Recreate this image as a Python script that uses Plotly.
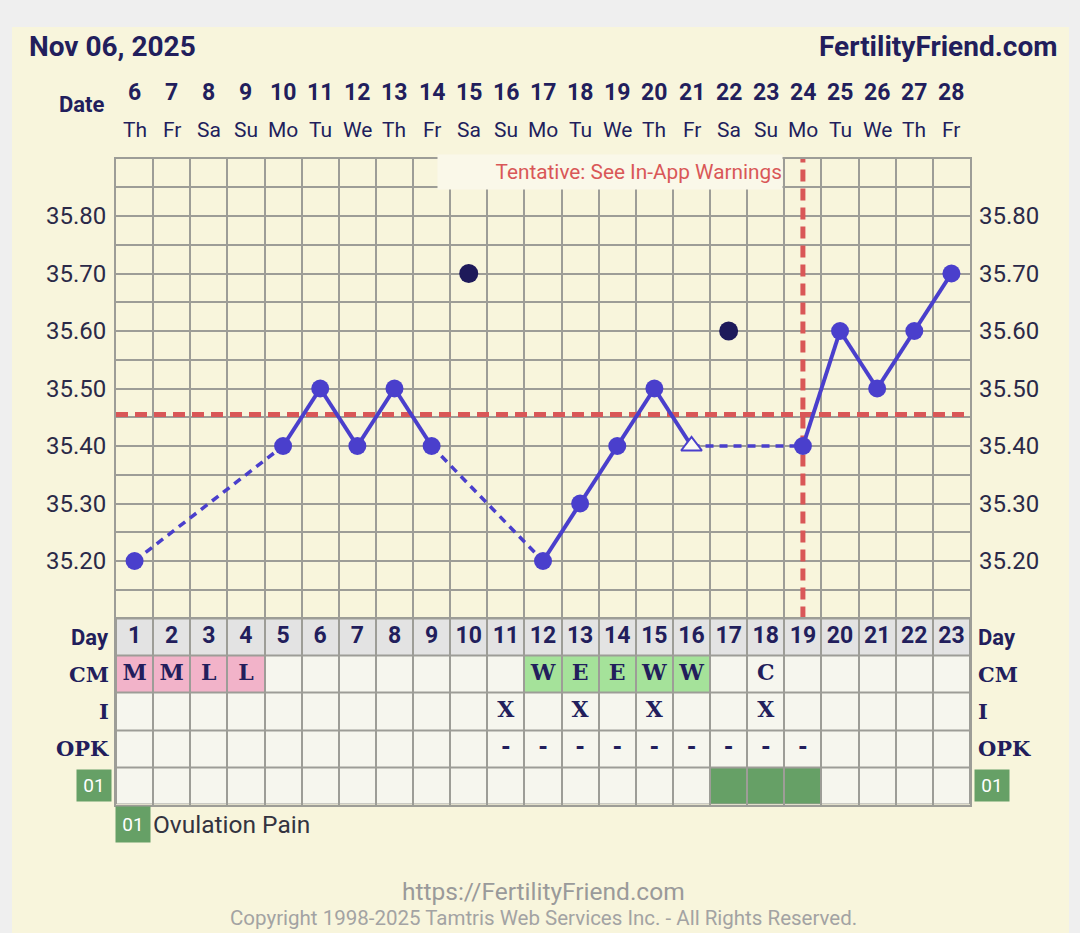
import plotly.graph_objects as go

W, H = 1080, 933

# ---------------- data ----------------
DAYS = list(range(1, 24))
DATES = [6, 7, 8, 9, 10, 11, 12, 13, 14, 15, 16, 17, 18, 19, 20, 21, 22, 23, 24, 25, 26, 27, 28]
WEEKDAYS = ["Th", "Fr", "Sa", "Su", "Mo", "Tu", "We", "Th", "Fr", "Sa", "Su", "Mo",
            "Tu", "We", "Th", "Fr", "Sa", "Su", "Mo", "Tu", "We", "Th", "Fr"]
TEMPS = [35.20, None, None, None, 35.40, 35.50, 35.40, 35.50, 35.40, None, None, 35.20,
         35.30, 35.40, 35.50, 35.40, None, None, 35.40, 35.60, 35.50, 35.60, 35.70]
DISCARDED_DAYS = [10, 17]
DISCARDED_TEMPS = [35.70, 35.60]
OPEN_MARKER_DAYS = [16]
COVERLINE = 35.455
OVULATION_DAY = 19
CM = ["M", "M", "L", "L", "", "", "", "", "", "", "", "W", "E", "E", "W", "W", "", "C", "", "", "", "", ""]
INTERCOURSE_DAYS = [11, 13, 15, 18]
OPK_DAYS = [11, 12, 13, 14, 15, 16, 17, 18, 19]
OPK_RESULT = "-"
OV_PAIN_DAYS = [17, 18, 19]
ROW_LABELS = ["Day", "CM", "I", "OPK", "01"]
TEMP_GRID = [35.10, 35.15, 35.20, 35.25, 35.30, 35.35, 35.40, 35.45, 35.50, 35.55,
             35.60, 35.65, 35.70, 35.75, 35.80, 35.85, 35.90]
TEMP_LABELS = ["", "", "35.20", "", "35.30", "", "35.40", "", "35.50", "", "35.60", "",
               "35.70", "", "35.80", "", ""]

# ---------------- styles ----------------
NAVY = "#221e5c"
BLUE = "#4a3fcc"
RED = "#d95757"
GRID = "#9d9d97"
CREAM = "#f8f5dc"
CELL = "#f6f6ee"
DAYROW = "#e3e3e3"
PINK = "#f2b3c9"
LGREEN = "#a5e29a"
DGREEN = "#66a066"
SANS = "Roboto"
SERIF = "DejaVu Serif"


def px(xp):
    return xp / W


def py(yp):
    return 1 - yp / H


fig = go.Figure()

# reference lines (drawn first, under the curve)
fig.add_trace(go.Scatter(x=[DAYS[0] - 0.5, DAYS[-1] + 0.5], y=[COVERLINE, COVERLINE],
                         mode="lines", line=dict(color=RED, width=5, dash="12px,7px"),
                         hoverinfo="skip", showlegend=False))
fig.add_trace(go.Scatter(x=[OVULATION_DAY, OVULATION_DAY], y=[TEMP_GRID[0], TEMP_GRID[-1]],
                         mode="lines", line=dict(color=RED, width=5, dash="12px,7px"),
                         hoverinfo="skip", showlegend=False))

# temperature curve: solid between consecutive days, dashed over gaps
pts = [(d, t) for d, t in zip(DAYS, TEMPS) if t is not None]
sx, sy, dx, dy = [], [], [], []
for (d0, t0), (d1, t1) in zip(pts[:-1], pts[1:]):
    if d1 - d0 == 1:
        sx += [d0, d1, None]
        sy += [t0, t1, None]
    else:
        dx += [d0, d1, None]
        dy += [t0, t1, None]
fig.add_trace(go.Scatter(x=dx, y=dy, mode="lines", line=dict(color=BLUE, width=3.5, dash="8px,6px"),
                         hoverinfo="skip", showlegend=False))
fig.add_trace(go.Scatter(x=sx, y=sy, mode="lines", line=dict(color=BLUE, width=4),
                         hoverinfo="skip", showlegend=False))
cx = [d for d, t in pts if d not in OPEN_MARKER_DAYS]
cy = [t for d, t in pts if d not in OPEN_MARKER_DAYS]
fig.add_trace(go.Scatter(x=cx, y=cy, mode="markers",
                         marker=dict(color=BLUE, size=18, line=dict(width=0)),
                         showlegend=False))
ox = [d for d, t in pts if d in OPEN_MARKER_DAYS]
oy = [t for d, t in pts if d in OPEN_MARKER_DAYS]
fig.add_trace(go.Scatter(x=ox, y=oy, mode="markers",
                         marker=dict(symbol="triangle-up", color="#fbfaf2", size=18,
                                     line=dict(color=BLUE, width=2)),
                         showlegend=False))
fig.add_trace(go.Scatter(x=DISCARDED_DAYS, y=DISCARDED_TEMPS, mode="markers",
                         marker=dict(color="#1e1a5a", size=19, line=dict(width=0)),
                         showlegend=False))

# ---------------- table ----------------
ROWS = list(range(len(ROW_LABELS)))
z = []
z.append([1 for _ in DAYS])
z.append([2 if c in ("M", "L") else 3 if c in ("W", "E") else 0 for c in CM])
z.append([0 for _ in DAYS])
z.append([0 for _ in DAYS])
z.append([4 if d in OV_PAIN_DAYS else 0 for d in DAYS])
fig.add_trace(go.Heatmap(x=DAYS, y=ROWS, z=z, xaxis="x", yaxis="y2", zmin=0, zmax=4,
                         colorscale=[[0, CELL], [0.25, DAYROW], [0.5, PINK], [0.75, LGREEN], [1, DGREEN]],
                         showscale=False, xgap=2, ygap=2, hoverinfo="skip"))
fig.add_shape(type="rect", xref="x", yref="y2", x0=DAYS[0] - 0.5, x1=DAYS[-1] + 0.5,
              y0=ROWS[0] - 0.5, y1=ROWS[-1] + 0.5, fillcolor=GRID, line=dict(width=0), layer="below")

fig.add_trace(go.Scatter(x=DAYS, y=[ROWS[0]] * len(DAYS), text=[str(d) for d in DAYS], mode="text",
                         textfont=dict(family=SANS, size=23, color=NAVY, weight="bold"),
                         xaxis="x", yaxis="y2", hoverinfo="skip", showlegend=False, cliponaxis=False))
fig.add_trace(go.Scatter(x=DAYS, y=[ROWS[1]] * len(DAYS), text=CM, mode="text",
                         textfont=dict(family=SERIF, size=22, color=NAVY, weight="bold"),
                         xaxis="x", yaxis="y2", hoverinfo="skip", showlegend=False, cliponaxis=False))
fig.add_trace(go.Scatter(x=INTERCOURSE_DAYS, y=[ROWS[2]] * len(INTERCOURSE_DAYS),
                         text=["X"] * len(INTERCOURSE_DAYS), mode="text",
                         textfont=dict(family=SERIF, size=22, color=NAVY, weight="bold"),
                         xaxis="x", yaxis="y2", hoverinfo="skip", showlegend=False, cliponaxis=False))
fig.add_trace(go.Scatter(x=OPK_DAYS, y=[ROWS[3]] * len(OPK_DAYS),
                         text=[OPK_RESULT] * len(OPK_DAYS), mode="text",
                         textfont=dict(family=SERIF, size=22, color=NAVY, weight="bold"),
                         xaxis="x", yaxis="y2", hoverinfo="skip", showlegend=False, cliponaxis=False))

# ---------------- layout ----------------
ann = []
ann.append(dict(text="Nov 06, 2025", x=px(27), y=py(46), xref="paper", yref="paper",
                xanchor="left", yanchor="middle", showarrow=False,
                font=dict(family=SANS, size=28, color=NAVY, weight="bold")))
ann.append(dict(text="FertilityFriend.com", x=px(1059), y=py(46), xref="paper", yref="paper",
                xanchor="right", yanchor="middle", showarrow=False,
                font=dict(family=SANS, size=28, color=NAVY, weight="bold")))
ann.append(dict(text="Date", x=px(107), y=py(104), xref="paper", yref="paper",
                xanchor="right", yanchor="middle", showarrow=False,
                font=dict(family=SANS, size=22, color=NAVY, weight="bold")))
for d, dt, wd in zip(DAYS, DATES, WEEKDAYS):
    ann.append(dict(text=str(dt), x=d, y=py(92), xref="x", yref="paper", showarrow=False,
                    yanchor="middle", font=dict(family=SANS, size=23, color=NAVY, weight="bold")))
    ann.append(dict(text=wd, x=d, y=py(130), xref="x", yref="paper", showarrow=False,
                    yanchor="middle", font=dict(family=SANS, size=21, color=NAVY)))
ann.append(dict(text="Tentative: See In-App Warnings", x=px(783), y=py(172), xref="paper", yref="paper",
                xanchor="right", yanchor="middle", showarrow=False, width=344, height=34,
                align="right", bgcolor="#faf8e9", borderpad=0,
                font=dict(family=SANS, size=20.8, color=RED)))
for r, lab in zip(ROWS, ROW_LABELS):
    if lab == "01":
        for xx, anc in ((112, "right"), (974, "left")):
            ann.append(dict(text=lab, x=px(xx), y=r, xref="paper", yref="y2", xanchor=anc,
                            yanchor="middle", showarrow=False, width=34, height=31, borderpad=0,
                            bgcolor=DGREEN, font=dict(family=SANS, size=19, color="white")))
    else:
        fam = SANS if lab == "Day" else SERIF
        ann.append(dict(text=lab, x=px(111), y=r, xref="paper", yref="y2", xanchor="right",
                        yanchor="middle", showarrow=False,
                        font=dict(family=fam, size=22 if lab == "Day" else 21, color=NAVY, weight="bold")))
        ann.append(dict(text=lab, x=px(976), y=r, xref="paper", yref="y2", xanchor="left",
                        yanchor="middle", showarrow=False,
                        font=dict(family=fam, size=22 if lab == "Day" else 21, color=NAVY, weight="bold")))
ann.append(dict(text="01", x=px(115), y=py(824), xref="paper", yref="paper", xanchor="left",
                yanchor="middle", showarrow=False, width=34, height=35, borderpad=0,
                bgcolor=DGREEN, font=dict(family=SANS, size=19, color="white")))
ann.append(dict(text="Ovulation Pain", x=px(151), y=py(824), xref="paper", yref="paper", xanchor="left",
                yanchor="middle", showarrow=False, font=dict(family=SANS, size=24.5, color="#333340")))
ann.append(dict(text="https://FertilityFriend.com", x=px(543), y=py(891), xref="paper", yref="paper",
                xanchor="center", yanchor="middle", showarrow=False,
                font=dict(family=SANS, size=24.5, color="#9a9a9a")))
ann.append(dict(text="Copyright 1998-2025 Tamtris Web Services Inc. - All Rights Reserved.",
                x=px(543), y=py(918), xref="paper", yref="paper",
                xanchor="center", yanchor="middle", showarrow=False,
                font=dict(family=SANS, size=20.5, color="#a3a3a3")))

fig.add_shape(type="rect", xref="paper", yref="paper", x0=px(12), x1=px(1069), y0=0, y1=py(27),
              fillcolor=CREAM, line=dict(width=0), layer="below")

tickfont = dict(family=SANS, size=24, color="#2b2948")
fig.update_layout(
    width=W, height=H, autosize=False,
    margin=dict(l=0, r=0, t=0, b=0),
    paper_bgcolor="#efefef", plot_bgcolor=CREAM,
    showlegend=False,
    annotations=ann,
    xaxis=dict(domain=[px(116), px(970)], range=[DAYS[0] - 0.5, DAYS[-1] + 0.5],
               tickvals=[d - 0.5 for d in DAYS] + [DAYS[-1] + 0.5], showticklabels=False,
               ticks="", showgrid=True, gridcolor=GRID, gridwidth=2, zeroline=False,
               showline=True, mirror="all", linecolor=GRID, linewidth=2, anchor="y", fixedrange=True),
    yaxis=dict(domain=[py(618.5), py(158.5)], range=[TEMP_GRID[0], TEMP_GRID[-1]],
               tickvals=TEMP_GRID, ticktext=TEMP_LABELS, ticks="", ticklabelstandoff=3,
               tickfont=tickfont, showgrid=True, gridcolor=GRID, gridwidth=2, zeroline=False,
               showline=True, mirror=True, linecolor=GRID, linewidth=2, anchor="x", fixedrange=True),
    yaxis3=dict(overlaying="y", side="right", range=[TEMP_GRID[0], TEMP_GRID[-1]],
                tickvals=TEMP_GRID, ticktext=TEMP_LABELS, ticks="", ticklabelstandoff=8,
                tickfont=tickfont, showgrid=False, zeroline=False, anchor="x", fixedrange=True),
    yaxis2=dict(domain=[py(804.5), py(618.5)], range=[ROWS[-1] + 0.5, ROWS[0] - 0.5],
                showticklabels=False, ticks="", showgrid=False, zeroline=False,
                showline=True, mirror=True, linecolor=GRID, linewidth=2, anchor="x", fixedrange=True),
)
# invisible trace to activate right axis
fig.add_trace(go.Scatter(x=[DAYS[0]], y=[TEMP_GRID[0]], yaxis="y3", mode="markers",
                         marker=dict(opacity=0), hoverinfo="skip", showlegend=False))

fig.write_html("out.html", config={"displayModeBar": False},
               post_script="document.body.style.margin='0';document.body.style.overflow='hidden';")
